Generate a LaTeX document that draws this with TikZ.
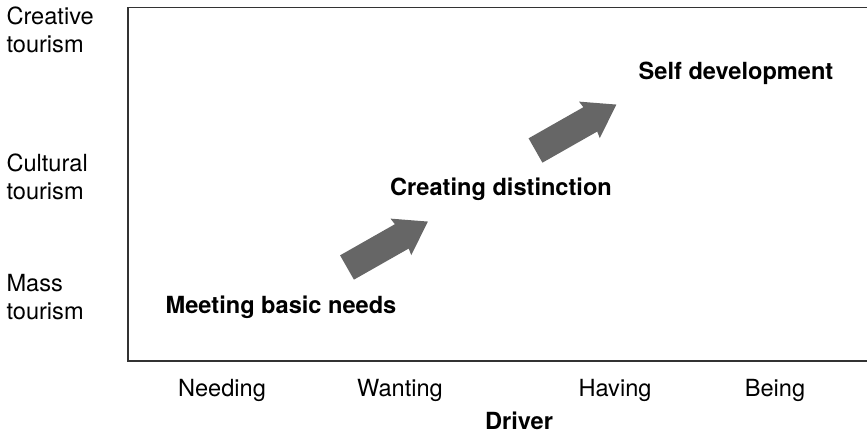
\documentclass[tikz,border=0pt]{standalone}
\usepackage{fontspec}
\setmainfont{TeX Gyre Heros}
\usetikzlibrary{positioning}

\tikzset{
    level/.style={anchor=west, align=left, font=\fontsize{23.6}{27.5}\selectfont},
    driver/.style={anchor=base, font=\fontsize{23.6}{27.5}\selectfont},
    stage/.style={anchor=base, font=\fontsize{23.6}{27.5}\selectfont\bfseries},
    frame/.style={draw=black!80, line width=1.2pt},
    fatarrow/.style={fill=black!60}
}

\begin{document}
\begin{tikzpicture}[x=1pt, y=-1pt]
    \useasboundingbox (0,0) rectangle (867,433);

    % open frame (right side cut)
    \draw[frame] (867,7.5) -- (128,7.5) -- (128,361) -- (867,361);

    % tourism levels
    \node[level] (creative) at (3,30) {Creative\\tourism};
    \node[level] (cultural) at (3,177) {Cultural\\tourism};
    \node[level] (mass) at (3,297) {Mass\\tourism};

    % drivers
    \node[driver] (needing) at (222,396) {Needing};
    \node[driver] (wanting) at (400,396) {Wanting};
    \node[driver] (having) at (615,396) {Having};
    \node[driver] (being) at (775,396) {Being};
    \node[stage] (driver) at (519,429) {Driver};

    % stages
    \node[stage] (meeting) at (281,313) {Meeting basic needs};
    \node[stage] (distinction) at (501,195) {Creating distinction};
    \node[stage] (self) at (736,80) {Self development};

    % arrows between stages
    \foreach \cx/\cy in {347/267.5, 535.5/150.5}
        \fill[fatarrow, shift={(\cx,\cy)}, rotate=29.6]
            (0,-14) -- (63,-14) -- (62,-21) -- (93,0) -- (62,21) -- (63,14) -- (0,14) -- cycle;
\end{tikzpicture}
\end{document}
